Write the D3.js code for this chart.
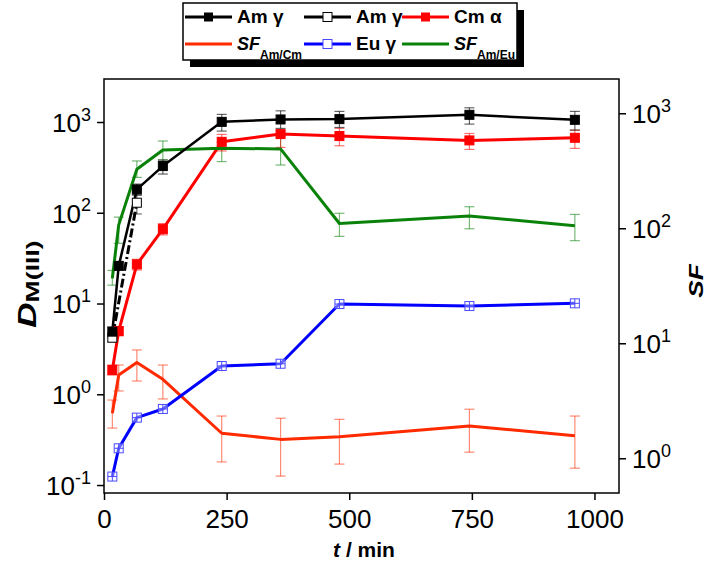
<!DOCTYPE html>
<html>
<head>
<meta charset="utf-8">
<script src="https://cdn.jsdelivr.net/npm/d3@7"></script>
<style>
  body { margin: 0; background: #fff; }
  svg { display: block; font-family: "Liberation Sans", Arial, sans-serif; }
</style>
</head>
<body>
<script>
// ---------------- DATA ----------------
const times = [17, 30, 67, 120, 240, 360, 480, 745, 960];

// Am gamma (filled black squares), left axis
const amGamma   = [4.9, 26, 181, 327, 1004, 1067, 1076, 1200, 1057];
const amGammaLo = [4.3, 23.8, 157, 267, 794, 850, 871, 948, 815];
const amGammaHi = [5.5, 28.9, 207, 381, 1213, 1328, 1309, 1435, 1309];

// Am gamma (open squares, dash-dot), left axis
const amGammaOpenTimes = [17, 67];
const amGammaOpen   = [4.2, 129];
const amGammaOpenLo = [3.8, 97];
const amGammaOpenHi = [4.7, 157];

// Cm alpha (filled red squares), left axis
const cmAlpha   = [1.85, 4.98, 27, 66, 605, 736, 700, 627, 670];
const cmAlphaLo = [1.63, 4.4, 23.4, 57, 480, 525, 547, 499, 512];
const cmAlphaHi = [2.1, 5.5, 30.7, 76, 730, 800, 851, 748, 813];

// Eu gamma (open crossed blue squares), left axis
const euGamma = [0.124, 0.254, 0.553, 0.689, 2.05, 2.17, 9.87, 9.38, 10.05];

// SF Am/Cm (right axis)
const sfAmCm   = [2.46, 5.3, 6.8, 4.86, 1.65, 1.46, 1.54, 1.91, 1.57];
const sfAmCmLo = [1.83, 3.85, 4.7, 3.28, 0.93, 0.70, 0.89, 1.13, 0.82];
const sfAmCmHi = [3.21, 6.47, 8.75, 6.47, 2.33, 2.23, 2.18, 2.67, 2.33];

// SF Am/Eu (right axis)
const sfAmEu   = [36.7, 107, 326, 480, 496, 490, 110, 128, 105];
const sfAmEuLo = [32, 74, 277, 393, 380, 355, 85, 99, 78];
const sfAmEuHi = [43, 125, 385, 574, 560, 633, 135, 154, 132];

// Axes ticks
const xTicks = [0, 250, 500, 750, 1000];
const leftExps = [-1, 0, 1, 2, 3];
const rightExps = [0, 1, 2, 3];

// ---------------- LAYOUT ----------------
const W = 712, H = 572;
const L = 104, R = 619, T = 79, B = 493;

const svg = d3.select("body").append("svg").attr("width", W).attr("height", H);

const x = d3.scaleLinear().domain([0, 1050]).range([L, R]);
const yL = d3.scaleLog().domain([0.0817, 2978]).range([B, T]);
const yR = d3.scaleLog().domain([0.499, 1986]).range([B, T]);

const C = {
  am: "#000000",
  cm: "#ff0000",
  sfcm: "#ff2a00",
  eu: "#0000ff",
  sfeu: "#0a820a"
};

// frame
svg.append("rect").attr("x", L).attr("y", T).attr("width", R - L).attr("height", B - T)
  .attr("fill", "none").attr("stroke", "#000").attr("stroke-width", 1.5);

const tickFont = 26, supFont = 18;

// bottom axis
const gx = svg.append("g").attr("transform", `translate(0,${B})`)
  .call(d3.axisBottom(x).tickValues(xTicks).tickFormat(d3.format("d"))
    .tickSize(7).tickSizeOuter(0).tickPadding(10));
gx.select(".domain").remove();
gx.selectAll(".tick line").attr("stroke-width", 1.5);
gx.selectAll(".tick text").attr("font-size", tickFont).attr("fill", "#000")
  .attr("font-family", "Liberation Sans, Arial, sans-serif");

function supLabels(g, anchor) {
  g.selectAll(".tick text").each(function(d) {
    const t = d3.select(this);
    t.text(null).attr("font-size", tickFont).attr("fill", "#000")
      .attr("font-family", "Liberation Sans, Arial, sans-serif")
      .attr("text-anchor", anchor).attr("dy", "0.36em");
    t.append("tspan").text("10");
    t.append("tspan").attr("font-size", supFont).attr("dy", "-0.62em")
      .text(Math.round(Math.log10(d)));
  });
}

// left axis
const gyL = svg.append("g").attr("transform", `translate(${L},0)`)
  .call(d3.axisLeft(yL).tickValues(leftExps.map(e => Math.pow(10, e))).tickSize(7).tickSizeOuter(0).tickPadding(6));
gyL.select(".domain").remove();
gyL.selectAll(".tick line").attr("stroke-width", 1.5);
supLabels(gyL, "end");

// right axis
const gyR = svg.append("g").attr("transform", `translate(${R},0)`)
  .call(d3.axisRight(yR).tickValues(rightExps.map(e => Math.pow(10, e))).tickSize(7).tickSizeOuter(0).tickPadding(6));
gyR.select(".domain").remove();
gyR.selectAll(".tick line").attr("stroke-width", 1.5);
supLabels(gyR, "start");

// axis titles
const xt = svg.append("text").attr("x", 364).attr("y", 557).attr("text-anchor", "middle")
  .attr("font-size", 21).attr("font-weight", "bold");
xt.append("tspan").attr("font-style", "italic").text("t");
xt.append("tspan").text(" / min");

const yt = svg.append("text").attr("transform", "translate(36,284) rotate(-90) scale(1.4,1)")
  .attr("text-anchor", "middle").attr("font-weight", "bold");
yt.append("tspan").attr("font-size", 25).attr("font-style", "italic").text("D");
yt.append("tspan").attr("font-size", 19).attr("dy", 3).text("M(III)");

svg.append("text").attr("transform", "translate(703,281) rotate(-90) scale(1.25,1)")
  .attr("text-anchor", "middle").attr("font-weight", "bold").attr("font-style", "italic")
  .attr("font-size", 21).text("SF");

// ---------------- SERIES ----------------
const plot = svg.append("g");

function errorBars(ts, lo, hi, y, color, op) {
  const g = plot.append("g").attr("stroke", color).attr("stroke-opacity", op).attr("stroke-width", 1.2);
  ts.forEach((t, i) => {
    const cx = x(t);
    g.append("line").attr("x1", cx).attr("x2", cx).attr("y1", y(lo[i])).attr("y2", y(hi[i]));
    g.append("line").attr("x1", cx - 5).attr("x2", cx + 5).attr("y1", y(lo[i])).attr("y2", y(lo[i]));
    g.append("line").attr("x1", cx - 5).attr("x2", cx + 5).attr("y1", y(hi[i])).attr("y2", y(hi[i]));
  });
}

function line(ts, vals, y, color, width, dash) {
  const gen = d3.line().x((d, i) => x(ts[i])).y(d => y(d));
  const p = plot.append("path").datum(vals).attr("d", gen).attr("fill", "none")
    .attr("stroke", color).attr("stroke-width", width).attr("stroke-linejoin", "round");
  if (dash) p.attr("stroke-dasharray", dash);
}

function squares(ts, vals, y, fill, stroke, size) {
  plot.append("g").selectAll("rect").data(vals).join("rect")
    .attr("x", (d, i) => x(ts[i]) - size / 2).attr("y", d => y(d) - size / 2)
    .attr("width", size).attr("height", size)
    .attr("fill", fill).attr("stroke", stroke).attr("stroke-width", 1);
}

function crossSquares(ts, vals, y, color, size) {
  const g = plot.append("g").attr("stroke", color).attr("stroke-width", 1).attr("fill", "none");
  vals.forEach((v, i) => {
    const cx = x(ts[i]), cy = y(v), h = size / 2;
    g.append("rect").attr("x", cx - h).attr("y", cy - h).attr("width", size).attr("height", size)
      .attr("fill", "rgba(255,255,255,0.4)");
    g.append("line").attr("x1", cx - h).attr("x2", cx + h).attr("y1", cy).attr("y2", cy);
    g.append("line").attr("x1", cx).attr("x2", cx).attr("y1", cy - h).attr("y2", cy + h);
  });
}

// error bars
errorBars(times, sfAmCmLo, sfAmCmHi, yR, C.sfcm, 0.55);
errorBars(times, sfAmEuLo, sfAmEuHi, yR, C.sfeu, 0.55);
errorBars(times, cmAlphaLo, cmAlphaHi, yL, C.cm, 0.55);
errorBars(amGammaOpenTimes, amGammaOpenLo, amGammaOpenHi, yL, C.am, 0.55);
errorBars(times, amGammaLo, amGammaHi, yL, C.am, 0.6);

// lines
line(times, sfAmCm, yR, C.sfcm, 3);
line(times, euGamma, yL, C.eu, 3);
line(times, cmAlpha, yL, C.cm, 3);
line(times, sfAmEu, yR, C.sfeu, 3);
line(amGammaOpenTimes, amGammaOpen, yL, C.am, 3, "9,3,2,3");
line(times, amGamma, yL, C.am, 2.5);

// markers
crossSquares(times, euGamma, yL, "#4a4aff", 9);
squares(times, cmAlpha, yL, C.cm, C.cm, 9);
squares(amGammaOpenTimes, amGammaOpen, yL, "#fff", "#000", 9);
squares(times, amGamma, yL, "#000", "#000", 9);

// ---------------- LEGEND ----------------
const lg = svg.append("g");
lg.append("rect").attr("x", 190).attr("y", 10).attr("width", 334).attr("height", 57).attr("fill", "#000");
lg.append("rect").attr("x", 183).attr("y", 3).attr("width", 334).attr("height", 57)
  .attr("fill", "#fff").attr("stroke", "#000").attr("stroke-width", 1.5);

const legendItems = [
  { label: "Am γ", color: C.am, marker: "filled", col: 0, row: 0 },
  { label: "Am γ", color: C.am, marker: "open", col: 1, row: 0 },
  { label: "Cm α", color: C.cm, marker: "filledRed", col: 2, row: 0 },
  { label: "SF", sub: "Am/Cm", color: C.sfcm, marker: null, col: 0, row: 1 },
  { label: "Eu γ", color: C.eu, marker: "cross", col: 1, row: 1 },
  { label: "SF", sub: "Am/Eu", color: C.sfeu, marker: null, col: 2, row: 1 }
];
const colX = [185, 304, 402];
const rowY = [17, 44];
legendItems.forEach(it => {
  const x1 = colX[it.col], x2 = x1 + 47, cy = rowY[it.row], cx = (x1 + x2) / 2;
  lg.append("line").attr("x1", x1).attr("x2", x2).attr("y1", cy).attr("y2", cy)
    .attr("stroke", it.color).attr("stroke-width", 3);
  if (it.marker === "filled" || it.marker === "filledRed") {
    lg.append("rect").attr("x", cx - 4.5).attr("y", cy - 4.5).attr("width", 9).attr("height", 9).attr("fill", it.color);
  } else if (it.marker === "open") {
    lg.append("rect").attr("x", cx - 4.5).attr("y", cy - 4.5).attr("width", 9).attr("height", 9)
      .attr("fill", "#fff").attr("stroke", "#000").attr("stroke-width", 1);
  } else if (it.marker === "cross") {
    lg.append("rect").attr("x", cx - 4.5).attr("y", cy - 4.5).attr("width", 9).attr("height", 9)
      .attr("fill", "#fff").attr("stroke", "#4a4aff").attr("stroke-width", 1);
  }
  const t = lg.append("text").attr("x", x2 + 5).attr("y", cy + 6).attr("font-weight", "bold");
  if (it.sub) {
    t.attr("font-size", 18);
    t.append("tspan").attr("font-style", "italic").text(it.label);
    t.append("tspan").attr("font-size", 12).attr("dy", 9).text(it.sub);
  } else {
    t.attr("font-size", 19).text(it.label);
  }
});
</script>
</body>
</html>
